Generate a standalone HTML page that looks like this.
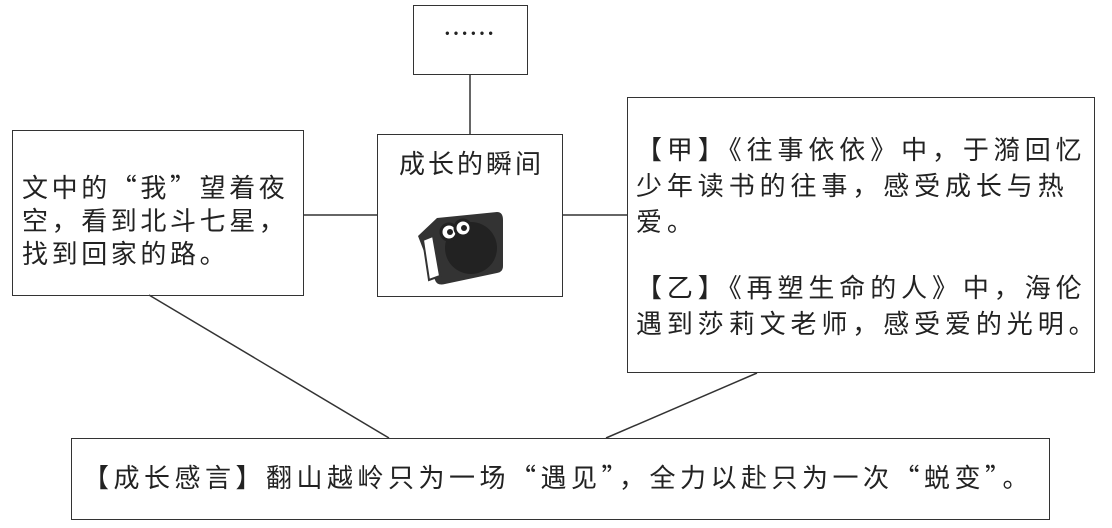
<!DOCTYPE html>
<html><head><meta charset="utf-8"><style>
body{margin:0;width:1112px;height:528px;background:#fff;position:relative;overflow:hidden;font-family:"Noto Sans CJK SC","Liberation Sans",sans-serif;color:#222}
.b{position:absolute;border:1.6px solid #333;box-sizing:border-box}
.t{position:absolute;font-size:26px;letter-spacing:3.5px;white-space:nowrap;line-height:26px}
</style></head><body>
<svg width="1112" height="528" style="position:absolute;left:0;top:0">
<g stroke="#333" stroke-width="1.5">
<line x1="470" y1="75" x2="470" y2="134"/>
<line x1="303" y1="215" x2="377" y2="215"/>
<line x1="563" y1="215" x2="627" y2="215"/>
<line x1="149" y1="295" x2="389" y2="438"/>
<line x1="757" y1="373" x2="606" y2="438"/>
</g>
<g transform="translate(415,198)">
<path d="M3,38 L22,20 L82,14 Q88,14 88,22 L88,68 Q88,74 82,75 L30,86 Q22,88 20,82 Z" fill="#333"/>
<path d="M8,42 L18,38 L25,78 L14,82 Z" fill="#fff" stroke="#333" stroke-width="2"/>
<circle cx="56" cy="50" r="26" fill="#222"/>
<circle cx="34" cy="34" r="8" fill="#fff" stroke="#222" stroke-width="3"/>
<circle cx="48" cy="30" r="8" fill="#fff" stroke="#222" stroke-width="3"/>
<circle cx="35" cy="34" r="3" fill="#222"/><circle cx="49" cy="30" r="3" fill="#222"/>
</g>
</svg>
<div class="b" style="left:413px;top:5px;width:115px;height:70px"></div>
<div class="t" style="left:443px;top:20px;letter-spacing:0px">……</div>
<div class="b" style="left:377px;top:134px;width:186px;height:163px"></div>
<div class="t" style="left:399px;top:150px;letter-spacing:3px">成长的瞬间</div>
<div class="b" style="left:12px;top:130px;width:292px;height:166px"></div>
<div class="t" style="left:22px;top:170px;line-height:33px;letter-spacing:3.6px">文中的“我”望着夜<br>空，看到北斗七星，<br>找到回家的路。</div>
<div class="b" style="left:627px;top:97px;width:468px;height:276px"></div>
<div class="t" style="left:636px;top:131px;line-height:36px;letter-spacing:4.9px">【甲】《往事依依》中，于漪回忆<br>少年读书的往事，感受成长与热<br>爱。<br><div style="height:30px"></div>【乙】《再塑生命的人》中，海伦<br>遇到莎莉文老师，感受爱的光明。</div>
<div class="b" style="left:71px;top:438px;width:979px;height:82px"></div>
<div class="t" style="left:83px;top:464px;letter-spacing:4.5px">【成长感言】翻山越岭只为一场“遇见”，全力以赴只为一次“蜕变”。</div>
</body></html>
